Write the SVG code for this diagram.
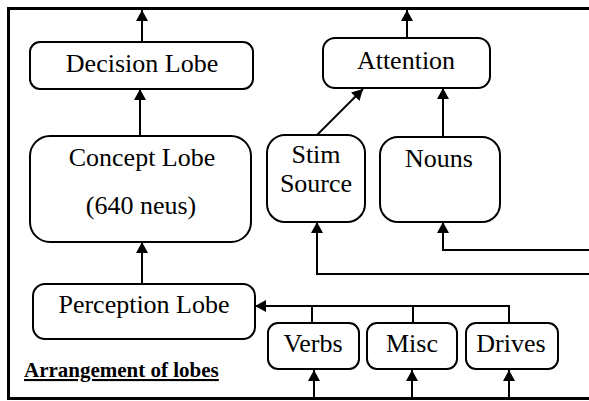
<svg xmlns="http://www.w3.org/2000/svg" width="589" height="401" viewBox="0 0 589 401">
<style>
.box{fill:#fff;stroke:#000;stroke-width:2}
.t{font-family:'Liberation Serif','Times New Roman',serif;font-size:26px;fill:#000;text-anchor:middle}
.ln{fill:none;stroke:#000;stroke-width:2}
.fr{fill:none;stroke:#000;stroke-width:3}
</style>
<defs>
<marker id="ah" viewBox="0 0 11 12" refX="11" refY="6" markerWidth="11" markerHeight="12" markerUnits="userSpaceOnUse" orient="auto">
<path d="M0,0 L11,6 L0,12 z" fill="#000"/>
</marker>
</defs>
<path class="fr" d="M589,8.5 H8.5 V398.5 H589"/>
<g id="connectors">
<path class="ln" d="M142,42 V10" marker-end="url(#ah)"/>
<path class="ln" d="M407,38 V10" marker-end="url(#ah)"/>
<path class="ln" d="M140,136 V89" marker-end="url(#ah)"/>
<path class="ln" d="M142,284 V242" marker-end="url(#ah)"/>
<path class="ln" d="M317,135 L363,89" marker-end="url(#ah)"/>
<path class="ln" d="M443,137 V88" marker-end="url(#ah)"/>
<path class="ln" d="M589,250 H443 V222" marker-end="url(#ah)"/>
<path class="ln" d="M589,274 H317 V222" marker-end="url(#ah)"/>
<path class="ln" d="M509,323 V306 H255" marker-end="url(#ah)"/>
<path class="ln" d="M312,323 V306"/>
<path class="ln" d="M413,323 V306"/>
<path class="ln" d="M314,397 V370" marker-end="url(#ah)"/>
<path class="ln" d="M412,397 V370" marker-end="url(#ah)"/>
<path class="ln" d="M509,397 V370" marker-end="url(#ah)"/>
</g>
<g id="decision">
<rect class="box" x="30" y="42" width="223" height="47" rx="10"/>
<text class="t" x="142" y="72">Decision Lobe</text>
</g>
<g id="concept">
<rect class="box" x="30" y="136" width="221" height="106" rx="20"/>
<text class="t" x="142" y="166">Concept Lobe</text>
<text class="t" x="141" y="214">(640 neus)</text>
</g>
<g id="perception">
<rect class="box" x="33" y="284" width="222" height="55" rx="12"/>
<text class="t" x="144" y="313">Perception Lobe</text>
</g>
<g id="attention">
<rect class="box" x="323" y="38" width="167" height="50" rx="12"/>
<text class="t" x="406" y="69">Attention</text>
</g>
<g id="stim">
<rect class="box" x="267" y="135" width="98" height="87" rx="18"/>
<text class="t" x="316" y="163">Stim</text>
<text class="t" x="316" y="192">Source</text>
</g>
<g id="nouns">
<rect class="box" x="380" y="137" width="120" height="85" rx="18"/>
<text class="t" x="439" y="167">Nouns</text>
</g>
<g id="verbs">
<rect class="box" x="268" y="323" width="91" height="46" rx="10"/>
<text class="t" x="313" y="352">Verbs</text>
</g>
<g id="misc">
<rect class="box" x="367" y="323" width="90" height="46" rx="10"/>
<text class="t" x="412" y="352">Misc</text>
</g>
<g id="drives">
<rect class="box" x="466" y="323" width="92" height="46" rx="10"/>
<text class="t" x="511" y="352">Drives</text>
</g>
<g id="caption">
<text x="24" y="377" font-family="'Liberation Serif','Times New Roman',serif" font-size="21" font-weight="bold" text-decoration="underline">Arrangement of lobes</text>
</g>
</svg>
